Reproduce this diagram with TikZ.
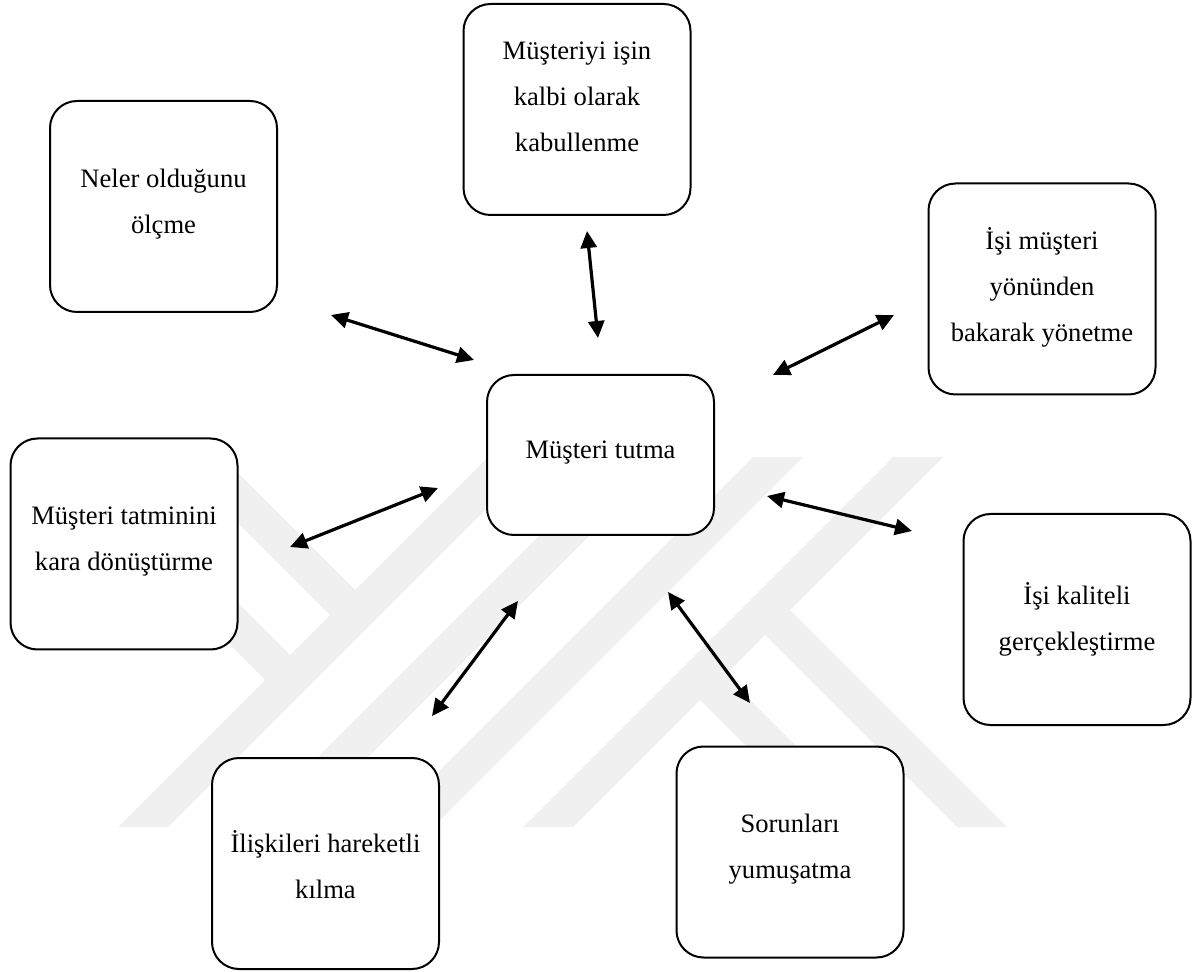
\documentclass[tikz,border=0pt]{standalone}
\usepackage{fontspec}
\setmainfont{Liberation Serif}
\usetikzlibrary{arrows.meta}
\definecolor{wm}{HTML}{F0F0F0}
\tikzset{
  box/.style={draw=black, line width=1pt, rounded corners=13.5pt, fill=white,
    minimum width=113.5pt, minimum height=105.5pt, inner sep=0pt},
  lbl/.style={font=\fontsize{13.3}{23}\selectfont, align=center, inner sep=0pt},
  conn/.style={line width=1.6pt, {Triangle[length=8.5pt,width=8pt]}-{Triangle[length=8.5pt,width=8pt]}},
  wmark/.style={fill=wm, draw=none}
}
\begin{document}
\begin{tikzpicture}[x=0.5pt, y=-0.5pt]
\useasboundingbox (0,0) rectangle (1194,972);
% watermark
\fill[wmark] (118,827) -- (168,827) -- (538,457) -- (488,457) -- cycle;
\fill[wmark] (248,827) -- (298,827) -- (668,457) -- (618,457) -- cycle;
\fill[wmark] (383,827) -- (433,827) -- (803,457) -- (753,457) -- cycle;
\fill[wmark] (523,827) -- (573,827) -- (943,457) -- (893,457) -- cycle;
\fill[wmark] (172,457) -- (222,457) -- (362.5,597.5) -- (337.5,622.5) -- cycle;
\fill[wmark] (42,457) -- (92,457) -- (297.5,662.5) -- (272.5,687.5) -- cycle;
\fill[wmark] (757.5,627.5) -- (782.5,602.5) -- (1007,827) -- (957,827) -- cycle;
\fill[wmark] (692.5,692.5) -- (717.5,667.5) -- (877,827) -- (827,827) -- cycle;
% boxes
\node[box] (A) at (577,109.5) {};
\node[box] (B) at (163.5,206.5) {};
\node[box] (C) at (1042,289) {};
\node[box, minimum height=80pt] (D) at (600.5,455) {};
\node[box] (E) at (124,544) {};
\node[box] (F) at (1077,619.5) {};
\node[box] (G) at (325.5,863.5) {};
\node[box] (H) at (790,852) {};
% labels
\node[lbl] (At) at (577,97) {Müşteriyi işin\\kalbi olarak\\kabullenme};
\node[lbl] (Bt) at (163.5,204.5) {Neler olduğunu\\ölçme};
\node[lbl] (Ct) at (1042,287.5) {İşi müşteri\\yönünden\\bakarak yönetme};
\node[lbl] (Dt) at (600.5,453) {Müşteri tutma};
\node[lbl] (Et) at (124,541.5) {Müşteri tatminini\\kara dönüştürme};
\node[lbl] (Ft) at (1077,619) {İşi kaliteli\\gerçekleştirme};
\node[lbl] (Gt) at (325.5,865) {İlişkileri hareketli\\kılma};
\node[lbl] (Ht) at (790,849.5) {Sorunları\\yumuşatma};
% arrow end points
\coordinate (b1) at (331,315);  \coordinate (b2) at (474,360);
\coordinate (a1) at (587,231);  \coordinate (a2) at (598,338);
\coordinate (c1) at (894,315);  \coordinate (c2) at (773,375);
\coordinate (e1) at (438,488);  \coordinate (e2) at (290,547);
\coordinate (f1) at (767,496);  \coordinate (f2) at (912,531);
\coordinate (g1) at (518,601);  \coordinate (g2) at (432,716);
\coordinate (h1) at (668,592);  \coordinate (h2) at (750,703);
\draw[conn] (b1) -- (b2);
\draw[conn] (a1) -- (a2);
\draw[conn] (c1) -- (c2);
\draw[conn] (e1) -- (e2);
\draw[conn] (f1) -- (f2);
\draw[conn] (g1) -- (g2);
\draw[conn] (h1) -- (h2);
\end{tikzpicture}
\end{document}
